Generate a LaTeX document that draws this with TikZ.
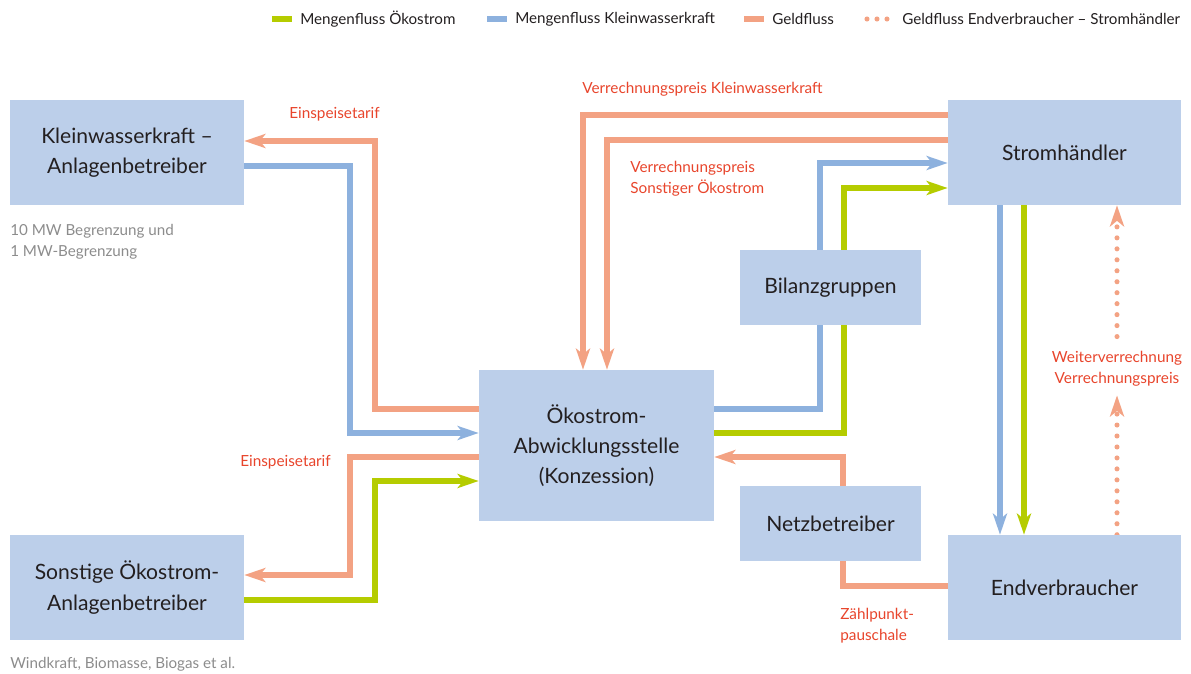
\documentclass[tikz,border=0pt]{standalone}
\usepackage{fontspec}
\setmainfont{Lato}
\usetikzlibrary{arrows.meta}
\definecolor{Kasten}{HTML}{BCCFEA}
\definecolor{Geld}{HTML}{F3A283}
\definecolor{Wasser}{HTML}{8DB1DE}
\definecolor{Oeko}{HTML}{B5CC00}
\definecolor{Rotschrift}{HTML}{E8452C}
\definecolor{Grauschrift}{HTML}{8C8C8C}
\definecolor{Schrift}{HTML}{231F20}
\pgfdeclarelayer{background}
\pgfsetlayers{background,main}

\begin{document}
\begin{tikzpicture}[x=0.025cm, y=-0.025cm,
    akteur/.style={fill=Kasten, text=Schrift, align=center, inner sep=0pt,
        font=\fontsize{15}{21.5}\selectfont},
    fluss/.style={line width=3.6pt},
    pfeil/.style={-{Stealth[length=15pt, width=10pt, inset=4pt]}},
    punkte/.style={fluss, Geld, line cap=round, dash pattern=on 0pt off 7.8pt},
    etikett/.style={text=Rotschrift, inner sep=0pt, align=left,
        font=\fontsize{10.9}{15}\selectfont},
    notiz/.style={text=Grauschrift, inner sep=0pt, anchor=west, align=left,
        font=\fontsize{10.8}{15}\selectfont},
    legende/.style={text=Schrift, inner sep=0pt, anchor=west,
        font=\fontsize{10.8}{15}\selectfont}]
    \useasboundingbox (0,0) rectangle (1191,673);

    % Legend
    \foreach \farbe/\x/\name/\text in {Oeko/272/lego/Mengenfluss Ökostrom,
        Wasser/487/legw/Mengenfluss Kleinwasserkraft, Geld/744/legg/Geldfluss} {
        \draw[\farbe, line width=3.6pt] (\x,19) -- (\x+20,19);
        \node[legende] (\name) at (\x+28,19) {\text};
    }
    \draw[punkte, dash pattern=on 0pt off 7.1pt] (867,19) -- (888,19);
    \node[legende] (legp) at (902,19) {Geldfluss Endverbraucher – Stromhändler};

    % Actors
    \node[akteur, minimum width=5.85cm, minimum height=2.625cm] (kwk) at (127,152.5)
        {Kleinwasserkraft –\\Anlagenbetreiber};
    \node[akteur, minimum width=5.85cm, minimum height=2.625cm] (sonst) at (127,587.5)
        {Sonstige Ökostrom-\\Anlagenbetreiber};
    \node[akteur, minimum width=5.875cm, minimum height=3.775cm] (oeko) at (596.5,445.5)
        {Ökostrom-\\Abwicklungsstelle\\(Konzession)};
    \node[akteur, minimum width=4.525cm, minimum height=1.875cm] (bilanz) at (830.5,287.5)
        {Bilanzgruppen};
    \node[akteur, minimum width=4.525cm, minimum height=1.875cm] (netz) at (830.5,523.5)
        {Netzbetreiber};
    \node[akteur, minimum width=5.825cm, minimum height=2.625cm] (handel) at (1064.5,152.5)
        {Stromhändler};
    \node[akteur, minimum width=5.825cm, minimum height=2.625cm] (endv) at (1064.5,587.5)
        {Endverbraucher};

    % Notes
    \node[notiz] (notekwk) at (10,241.5) {10 MW Begrenzung und\\1 MW-Begrenzung};
    \node[notiz] (notesonst) at (10,664) {Windkraft, Biomasse, Biogas et al.};

    % Labels
    \node[etikett, anchor=west] (einsp1) at (289,114) {Einspeisetarif};
    \node[etikett, anchor=west] (einsp2) at (240,462) {Einspeisetarif};
    \node[etikett, anchor=west] (vpkwk) at (582,89) {Verrechnungspreis Kleinwasserkraft};
    \node[etikett, anchor=west] (vpsonst) at (630,178.5) {Verrechnungspreis\\Sonstiger Ökostrom};
    \node[etikett, anchor=west] (zpp) at (840,626) {Zählpunkt-\\pauschale};
    \node[etikett, align=center] (weiter) at (1117,368.5) {Weiterverrechnung\\Verrechnungspreis};

    \begin{pgfonlayer}{background}
        % Kleinwasserkraft
        \draw[fluss, Geld, pfeil] (oeko.west |- 0,409) -| (375,141) -- (kwk.east |- 0,141);
        \draw[fluss, Wasser, pfeil] (kwk.east |- 0,166) -| (350,433) -- (oeko.west |- 0,433);

        % Sonstige
        \draw[fluss, Geld, pfeil] (oeko.west |- 0,457) -| (350,575) -- (sonst.east |- 0,575);
        \draw[fluss, Oeko, pfeil] (sonst.east |- 0,600) -| (375,481) -- (oeko.west |- 0,481);

        % Stromhaendler
        \draw[fluss, Geld, pfeil] (handel.west |- 0,115) -| (oeko.north -| 583,0);
        \draw[fluss, Geld, pfeil] (handel.west |- 0,140) -| (oeko.north -| 607,0);
        \draw[fluss, Wasser, pfeil] (oeko.east |- 0,409) -| (820,163) -- (handel.west |- 0,163);
        \draw[fluss, Oeko, pfeil] (oeko.east |- 0,433) -| (844,188) -- (handel.west |- 0,188);

        % Endverbraucher
        \draw[fluss, Geld, pfeil] (endv.west |- 0,586) -| (843,457) -- (oeko.east |- 0,457);
        \draw[fluss, Wasser, pfeil] (handel.south -| 1000,0) -- (endv.north -| 1000,0);
        \draw[fluss, Oeko, pfeil] (handel.south -| 1024,0) -- (endv.north -| 1024,0);
        \draw[punkte, pfeil] (endv.north -| weiter) -- ([yshift=-6.4pt]weiter.south);
        \draw[punkte, pfeil] ([yshift=10pt]weiter.north) -- (handel.south -| weiter);
    \end{pgfonlayer}
\end{tikzpicture}
\end{document}
